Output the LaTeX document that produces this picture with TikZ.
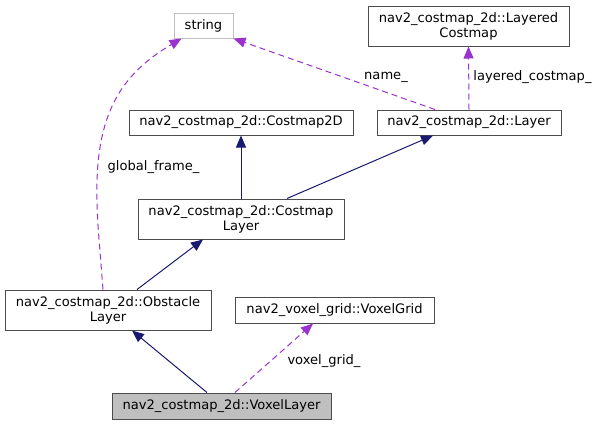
\documentclass[tikz,border=0pt]{standalone}
\usepackage{fontspec}
\setmainfont{DejaVu Sans}
\usetikzlibrary{arrows.meta}
\definecolor{inhcol}{HTML}{191970}
\definecolor{usecol}{HTML}{9A32CD}
\tikzset{
  cls/.style={draw=black!70, fill=white, line width=0.75pt, inner sep=0pt, align=center, font=\fontsize{9.8pt}{11.25pt}\selectfont},
  lbl/.style={font=\fontsize{9.8pt}{11.25pt}\selectfont, inner sep=0pt},
  inh/.style={draw=inhcol, line width=0.75pt, -{Triangle[length=9pt,width=7.5pt]}, color=inhcol},
  use/.style={draw=usecol, line width=0.75pt, dash pattern=on 4.5pt off 3pt, -{Triangle[length=9pt,width=7.5pt]}, color=usecol}
}
\begin{document}
\begin{tikzpicture}[x=0.75pt,y=-0.75pt]
\useasboundingbox (0,0) rectangle (599,425);
\node[cls, draw=black!25, minimum width={59*0.75pt}, minimum height={25*0.75pt}] (str) at (203.5,25.5) {string};
\node[cls, minimum width={201*0.75pt}, minimum height={40*0.75pt}] (lcm) at (468.5,26) {nav2\_costmap\_2d::Layered\\Costmap};
\node[cls, minimum width={224*0.75pt}, minimum height={25*0.75pt}] (c2d) at (241,122.5) {nav2\_costmap\_2d::Costmap2D};
\node[cls, minimum width={184*0.75pt}, minimum height={25*0.75pt}] (lay) at (469,122.5) {nav2\_costmap\_2d::Layer};
\node[cls, minimum width={206*0.75pt}, minimum height={40*0.75pt}] (cl) at (241,219) {nav2\_costmap\_2d::Costmap\\Layer};
\node[cls, minimum width={206*0.75pt}, minimum height={40*0.75pt}] (obs) at (108,310) {nav2\_costmap\_2d::Obstacle\\Layer};
\node[cls, minimum width={199*0.75pt}, minimum height={26*0.75pt}] (vg) at (334.5,310) {nav2\_voxel\_grid::VoxelGrid};
\node[cls, fill=black!25, minimum width={219*0.75pt}, minimum height={26*0.75pt}] (vl) at (221.5,406) {nav2\_costmap\_2d::VoxelLayer};

\draw[inh] (cl.north) -- (c2d.south);
\draw[inh] ([xshift=34.5pt]cl.north) -- ([xshift=-27pt]lay.south);
\draw[inh] ([xshift=21.75pt]obs.north) -- ([xshift=-28.5pt]cl.south);
\draw[inh] ([xshift=-10.9pt]vl.north) -- ([xshift=18pt]obs.south);

\draw[use] ([xshift=10.1pt]vl.north) -- ([xshift=-16.1pt]vg.south);
\draw[use] (lay.north) -- (lcm.south);
\draw[use] ([xshift=-25.5pt]lay.north) -- (str.south east);
\coordinate (g1) at (97,200);
\coordinate (c1) at (95,115);
\coordinate (c2) at (120,75);
\draw[use] ([xshift=-3.75pt]obs.north) .. controls (100,250) and (97,220) .. (g1) .. controls (c1) and (c2) .. ([xshift=-16.5pt]str.south);

\node[lbl] (lg) at (153.5,167) {global\_frame\_};
\node[lbl] (ln) at (386,77) {name\_};
\node[lbl] (ll) at (532.5,77) {layered\_costmap\_};
\node[lbl] (lv) at (324,361) {voxel\_grid\_};
\end{tikzpicture}
\end{document}
